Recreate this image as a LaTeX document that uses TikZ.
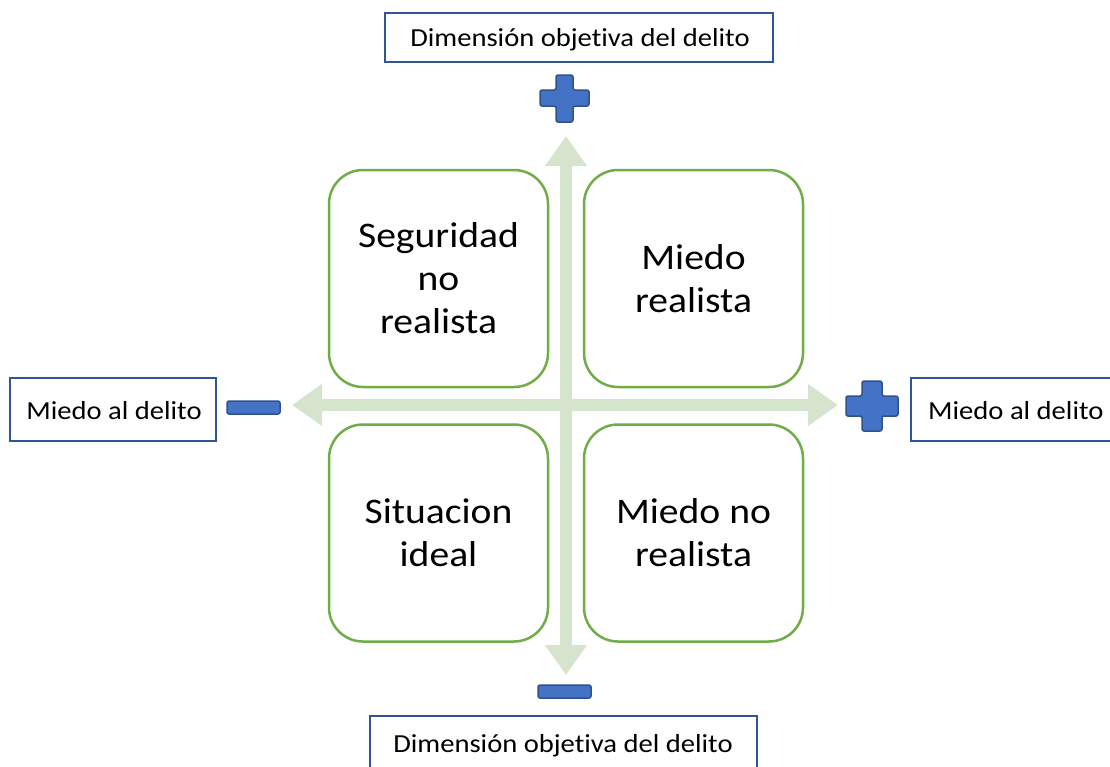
\documentclass[tikz,border=0pt]{standalone}
\usepackage{fontspec}
\setmainfont{Carlito}[Ligatures=NoCommon]
\newfontfamily\qfont[FakeStretch=1.1,Ligatures=NoCommon]{Carlito}
\usetikzlibrary{arrows.meta}
\definecolor{axisgreen}{HTML}{D6E4CE}
\definecolor{quadgreen}{HTML}{70AD47}
\definecolor{labblue}{HTML}{2F5597}
\definecolor{plusfill}{HTML}{4472C4}
\definecolor{plusline}{HTML}{2F528F}
\tikzset{
  quad/.style={draw=quadgreen, line width=2.5pt, fill=white, rounded corners=34pt,
    minimum width=219pt, minimum height=217pt, align=center,
    font=\qfont\fontsize{36}{43}\selectfont, inner sep=0pt},
  lab/.style={draw=labblue, line width=1.3pt, fill=white},
  labtext/.style={font=\qfont\fontsize{26}{30}\selectfont, inner sep=0pt},
  axis/.style={draw=axisgreen, line width=12pt, {Triangle[width=40pt,length=30pt]}-{Triangle[width=40pt,length=30pt]}},
  sign/.style={fill=plusfill, draw=plusline, line width=1.5pt, rounded corners=2pt}
}
\begin{document}
\begin{tikzpicture}[x=1pt,y=-1pt]
\useasboundingbox (0,0) rectangle (1110,766);
\clip (0,0) rectangle (1110,766);
% axes
\coordinate (hl) at (292,405);
\coordinate (hr) at (838,405);
\coordinate (vt) at (566,136);
\coordinate (vb) at (566,675);
\draw[axis] (hl) -- (hr);
\draw[axis] (vt) -- (vb);
% quadrants
\node[quad] (tl) at (438.5,278.5) {Seguridad\\no\\realista};
\node[quad] (tr) at (693.5,278.5) {Miedo\\realista};
\node[quad] (bl) at (438.5,533) {Situacion\\ideal};
\node[quad] (br) at (693.5,533) {Miedo no\\realista};
% label boxes
\draw[lab] (385,13) rectangle (773,62);
\node[labtext] (ttop) at (580,40) {Dimensión objetiva del delito};
\draw[lab] (370,716) rectangle (757,790);
\node[labtext] (tbot) at (563,746) {Dimensión objetiva del delito};
\draw[lab] (10,378) rectangle (216,441);
\node[labtext] (tleft) at (114,411) {Miedo al delito};
\draw[lab] (911,378) rectangle (1120,441);
\node[labtext, anchor=west] (tright) at (928,411) {Miedo al delito};
% minus signs
\draw[sign] (227,401) rectangle (280,414);
\draw[sign] (538,685) rectangle (591,698);
% plus top (center 564,98)
\draw[sign] (556,75) -- (573,75) -- (573,90) -- (589,90) -- (589,106) -- (573,106) -- (573,122) -- (556,122) -- (556,106) -- (540,106) -- (540,90) -- (556,90) -- cycle;
% plus right (center 872,406)
\draw[sign] (862,381) -- (882,381) -- (882,396) -- (898,396) -- (898,416) -- (882,416) -- (882,431) -- (862,431) -- (862,416) -- (846,416) -- (846,396) -- (862,396) -- cycle;
\end{tikzpicture}
\end{document}
